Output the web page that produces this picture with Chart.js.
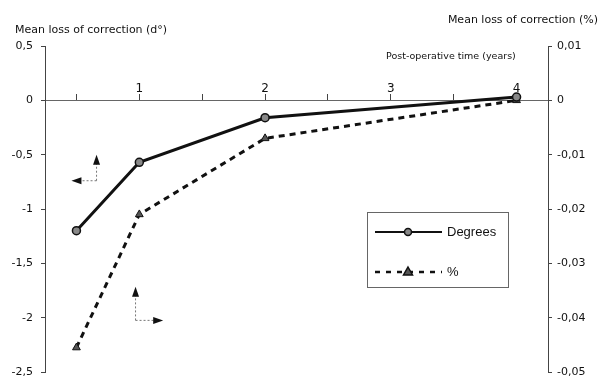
<!DOCTYPE html>
<html lang="en">
<head>
  <meta charset="UTF-8" />
  <title>Mean loss of correction</title>
  <script src="https://cdn.jsdelivr.net/npm/chart.js"></script>
  <style>
    body { margin: 0; background: #fff; }
    canvas { display: block; }
  </style>
</head>
<body>
  <canvas id="lossChart" width="602" height="379"></canvas>

  <script>
    // Post-operative time (years)
    const years = [0.5, 1, 2, 4];
    // Mean loss of correction
    const lossDegrees = [-1.2, -0.57, -0.16, 0.03];
    const lossPercent = [-0.0455, -0.021, -0.007, 0];

    // Tick values
    const xTicks = [0.5, 1, 1.5, 2, 2.5, 3, 3.5, 4];
    const degTicks = [0.5, 0, -0.5, -1, -1.5, -2, -2.5];
    const pctTicks = [0.01, 0, -0.01, -0.02, -0.03, -0.04, -0.05];

    const ink = '#111';
    const axisGrey = '#444';
    const comma = v => String(v).replace('.', ',');

    // fixed axis width, and no extra space reserved for the end labels
    const fixWidth = w => s => { s.width = w; s.paddingTop = 0; s.paddingBottom = 0; };

    function arrow(ctx, x1, y1, x2, y2) {
      const a = Math.atan2(y2 - y1, x2 - x1);
      ctx.save();
      ctx.strokeStyle = '#777';
      ctx.lineWidth = 1;
      ctx.setLineDash([2, 2]);
      ctx.beginPath();
      ctx.moveTo(x1, y1);
      ctx.lineTo(x2 - 6 * Math.cos(a), y2 - 6 * Math.sin(a));
      ctx.stroke();
      ctx.setLineDash([]);
      ctx.fillStyle = ink;
      ctx.translate(x2, y2);
      ctx.rotate(a);
      ctx.beginPath();
      ctx.moveTo(0, 0);
      ctx.lineTo(-10, -3.5);
      ctx.lineTo(-10, 3.5);
      ctx.closePath();
      ctx.fill();
      ctx.restore();
    }

    // Titles, axis arrows and the boxed legend
    const extras = {
      id: 'extras',
      afterDraw(chart) {
        const { ctx, scales: { x, yDeg, yPct } } = chart;
        ctx.save();
        ctx.fillStyle = ink;
        ctx.textBaseline = 'middle';
        ctx.font = '11px "DejaVu Sans"';
        ctx.textAlign = 'left';
        ctx.fillText('Mean loss of correction (d°)', 15, 30);
        ctx.textAlign = 'right';
        ctx.fillText('Mean loss of correction (%)', 598, 20);
        ctx.font = '9.5px "DejaVu Sans"';
        ctx.textAlign = 'left';
        ctx.fillText('Post-operative time (years)', 386, 57);

        // arrows: degrees -> left axis, % -> right axis
        const cx1 = x.getPixelForValue(0.66), cy1 = yDeg.getPixelForValue(-0.74);
        arrow(ctx, cx1, cy1, cx1, yDeg.getPixelForValue(-0.5));
        arrow(ctx, cx1, cy1, x.getPixelForValue(0.46), cy1);
        const cx2 = x.getPixelForValue(0.97), cy2 = yPct.getPixelForValue(-0.0405);
        arrow(ctx, cx2, cy2, cx2, yPct.getPixelForValue(-0.0343));
        arrow(ctx, cx2, cy2, x.getPixelForValue(1.19), cy2);

        // legend
        ctx.strokeStyle = '#666';
        ctx.lineWidth = 1;
        ctx.strokeRect(367.5, 212.5, 141, 75);
        ctx.font = '13px "Liberation Sans"';
        const rows = [232, 272];
        chart.data.datasets.forEach((ds, i) => {
          const y = rows[i];
          ctx.save();
          ctx.strokeStyle = ds.borderColor;
          ctx.lineWidth = i === 0 ? 2 : 2.5;
          ctx.setLineDash(i === 0 ? [] : [5, 6]);
          ctx.beginPath();
          ctx.moveTo(375, y);
          ctx.lineTo(442, y);
          ctx.stroke();
          ctx.restore();
          ctx.save();
          ctx.fillStyle = ds.pointBackgroundColor;
          ctx.strokeStyle = ds.pointBorderColor;
          ctx.lineWidth = 1.5;
          ctx.beginPath();
          if (ds.pointStyle === 'triangle') {
            ctx.moveTo(408, y - 5);
            ctx.lineTo(412.5, y + 3);
            ctx.lineTo(403.5, y + 3);
            ctx.closePath();
          } else {
            ctx.arc(408, y, 3.5, 0, Math.PI * 2);
          }
          ctx.fill();
          ctx.stroke();
          ctx.restore();
          ctx.fillStyle = ink;
          ctx.textAlign = 'left';
          ctx.fillText(ds.label, 447, y);
        });
        ctx.restore();
      }
    };

    new Chart(document.getElementById('lossChart'), {
      type: 'line',
      data: {
        datasets: [{
          label: 'Degrees',
          data: years.map((t, i) => ({ x: t, y: lossDegrees[i] })),
          yAxisID: 'yDeg',
          borderColor: ink,
          borderWidth: 3,
          pointStyle: 'circle',
          pointRadius: 4,
          pointBackgroundColor: '#888',
          pointBorderColor: ink,
          pointBorderWidth: 1.5,
          tension: 0
        }, {
          label: '%',
          data: years.map((t, i) => ({ x: t, y: lossPercent[i] })),
          yAxisID: 'yPct',
          borderColor: ink,
          borderWidth: 3,
          borderDash: [6, 5],
          pointStyle: 'triangle',
          pointRadius: 4.5,
          pointBackgroundColor: '#555',
          pointBorderColor: ink,
          pointBorderWidth: 1,
          tension: 0
        }]
      },
      options: {
        responsive: false,
        animation: false,
        layout: { padding: { top: 46, bottom: 7, left: 0, right: 0 } },
        plugins: { legend: { display: false }, tooltip: { enabled: false } },
        scales: {
          x: {
            type: 'linear',
            min: 0.25,
            max: 4.25,
            position: { yDeg: 0 },
            afterBuildTicks: s => { s.ticks = xTicks.map(v => ({ value: v })); },
            grid: { drawOnChartArea: false, tickLength: -7, color: axisGrey },
            border: { color: '#666', width: 1 },
            ticks: {
              padding: -12,
              autoSkip: false,
              maxRotation: 0,
              color: ink,
              font: { family: 'DejaVu Sans', size: 12 },
              callback: v => Number.isInteger(v) ? String(v) : ''
            }
          },
          yDeg: {
            position: 'left',
            min: -2.5,
            max: 0.5,
            afterBuildTicks: s => { s.ticks = degTicks.map(v => ({ value: v })); },
            afterFit: fixWidth(45),
            grid: { drawOnChartArea: false, tickLength: 4, color: axisGrey },
            border: { color: axisGrey, width: 1 },
            ticks: { padding: 8, color: ink, font: { family: 'DejaVu Sans', size: 11 }, callback: comma }
          },
          yPct: {
            position: 'right',
            min: -0.05,
            max: 0.01,
            afterBuildTicks: s => { s.ticks = pctTicks.map(v => ({ value: v })); },
            afterFit: fixWidth(54),
            grid: { drawOnChartArea: false, tickLength: 4, color: axisGrey },
            border: { color: axisGrey, width: 1 },
            ticks: { padding: 5, color: ink, font: { family: 'DejaVu Sans', size: 11 }, callback: comma }
          }
        }
      },
      plugins: [extras]
    });
  </script>
</body>
</html>
